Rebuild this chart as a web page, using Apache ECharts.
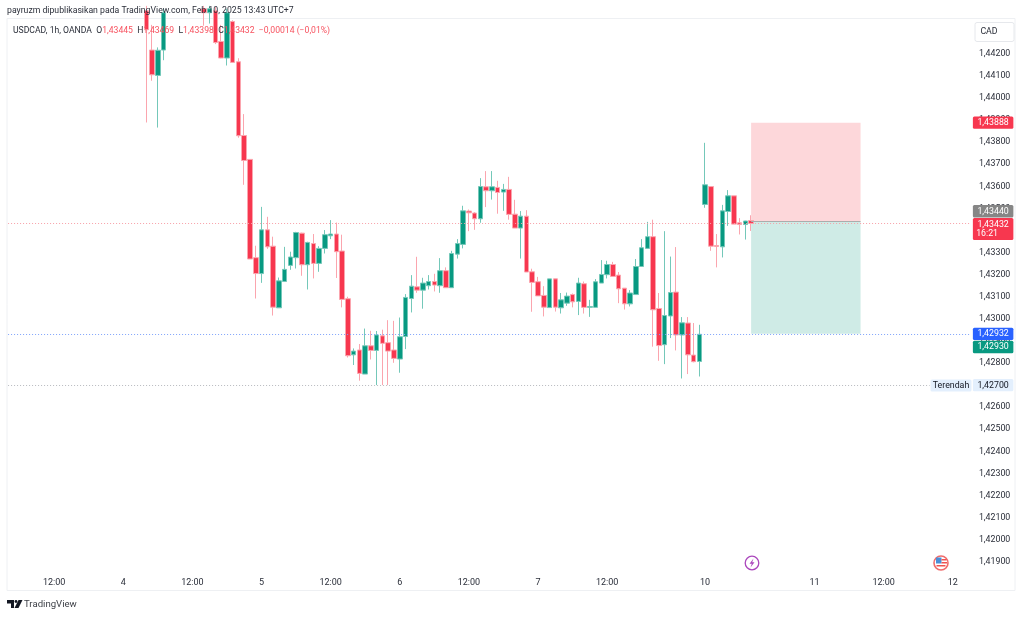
<!DOCTYPE html>
<html>
<head>
<meta charset="utf-8">
<style>
html, body { margin: 0; padding: 0; background: #fff; }
#chart { width: 1024px; height: 617px; }
</style>
<script src="https://cdn.jsdelivr.net/npm/echarts@6/dist/echarts.min.js"></script>
</head>
<body>
<div id="chart"></div>
<script>
// hourly slots on the time axis (weekend hours are not on it)
const slotCount = 168
const firstCandleSlot = 24
const timeTickSlots = [8, 20, 32, 44, 56, 68, 80, 92, 104, 121, 140, 152, 164]
const timeTickLabels = ['12:00', '4', '12:00', '5', '12:00', '6', '12:00', '7', '12:00', '10', '11', '12:00', '12']
const priceTicks = [1.419, 1.42, 1.421, 1.422, 1.423, 1.424, 1.425, 1.426, 1.427, 1.428, 1.429, 1.43, 1.431, 1.432, 1.433, 1.434, 1.435, 1.436, 1.437, 1.438, 1.439, 1.44, 1.441, 1.442]

// null = candle sits above the visible price range
const opens = [1.44395, 1.44217, 1.44102, 1.44217, null, null, null, null, null, null, 1.44404, 1.44386, 1.44395, 1.44256, 1.44181, 1.44346, 1.44164, 1.4383, 1.43722, 1.43277,
  1.43205, 1.43403, 1.43329, 1.4305, 1.43169, 1.43242, 1.43277, 1.43388, 1.43245, 1.43341, 1.43251, 1.43319, 1.43376, 1.43384, 1.43307, 1.43091, 1.42837, 1.42859, 1.4275, 1.42878,
  1.42857, 1.42923, 1.42892, 1.42859, 1.42818, 1.4292, 1.43092, 1.43145, 1.4313, 1.4315, 1.43169, 1.4315, 1.43218, 1.43141, 1.43293, 1.43337, 1.43488, 1.43479, 1.43453, 1.43598,
  1.4358, 1.43595, 1.43574, 1.43586, 1.43474, 1.43411, 1.43465, 1.43213, 1.43168, 1.43106, 1.43051, 1.43181, 1.4305, 1.43071, 1.4311, 1.43079, 1.43159, 1.43052, 1.43052, 1.43162,
  1.432, 1.43246, 1.43198, 1.43139, 1.43068, 1.4311, 1.43237, 1.43319, 1.43372, 1.43047, 1.42883, 1.43013, 1.43121, 1.42927, 1.42981, 1.42836, 1.42807, 1.43518, 1.43599, 1.43332,
  1.43326, 1.43486, 1.43557, 1.43435, 1.43427, 1.43445]
const closes = [1.44309, 1.44105, 1.44216, 1.44386, null, null, null, null, null, null, 1.44386, 1.44404, 1.44251, 1.44181, 1.44386, 1.44161, 1.43829, 1.43717, 1.43271, 1.43205,
  1.43403, 1.43326, 1.43053, 1.43172, 1.43224, 1.4328, 1.43391, 1.43245, 1.43346, 1.43251, 1.43319, 1.43381, 1.43384, 1.43304, 1.43088, 1.42833, 1.42854, 1.42753, 1.42878, 1.42857,
  1.42927, 1.42889, 1.42854, 1.42821, 1.42919, 1.43097, 1.43148, 1.4313, 1.43162, 1.43169, 1.43153, 1.43218, 1.43141, 1.43296, 1.43341, 1.43489, 1.4348, 1.43453, 1.43599, 1.4358,
  1.43598, 1.43572, 1.43586, 1.43473, 1.43411, 1.43465, 1.43212, 1.43165, 1.43104, 1.43053, 1.43181, 1.43053, 1.43086, 1.43103, 1.43077, 1.43162, 1.43052, 1.43056, 1.43168, 1.43201,
  1.43246, 1.43192, 1.43136, 1.43068, 1.43117, 1.43237, 1.43322, 1.43372, 1.43041, 1.42879, 1.43015, 1.43119, 1.42927, 1.42982, 1.42837, 1.42806, 1.4293, 1.43607, 1.43329, 1.43328,
  1.43489, 1.43557, 1.43429, 1.43427, 1.43443, 1.43432]
const lows = [1.43889, 1.44078, 1.43866, 1.44171, null, null, null, null, null, null, 1.44327, 1.44337, 1.44244, 1.4418, 1.44147, 1.44161, 1.4382, 1.43607, 1.43271, 1.43092,
  1.43163, 1.43317, 1.43015, 1.4305, 1.43169, 1.43222, 1.43228, 1.43195, 1.43133, 1.43183, 1.43213, 1.43296, 1.43361, 1.43185, 1.43052, 1.42825, 1.42791, 1.4272, 1.4275, 1.42816,
  1.427, 1.427, 1.427, 1.42801, 1.42756, 1.42863, 1.43029, 1.43118, 1.43046, 1.43133, 1.43124, 1.43118, 1.43141, 1.43141, 1.43273, 1.43319, 1.43397, 1.43403, 1.43435, 1.43506,
  1.4354, 1.43476, 1.43489, 1.43449, 1.43411, 1.43273, 1.43212, 1.43032, 1.43104, 1.43011, 1.43051, 1.43033, 1.43024, 1.43059, 1.43052, 1.43017, 1.43024, 1.43009, 1.43052, 1.43162,
  1.43183, 1.43192, 1.43071, 1.43042, 1.43056, 1.4311, 1.43237, 1.43319, 1.42874, 1.4281, 1.42795, 1.42913, 1.42857, 1.4273, 1.4275, 1.42803, 1.42739, 1.43503, 1.43308, 1.43233,
  1.43278, 1.43421, 1.43429, 1.43382, 1.43359, 1.43398]
const highs = [1.44417, 1.44331, 1.44229, 1.44404, null, null, null, null, null, null, 1.44417, 1.44417, 1.44413, 1.44331, 1.44404, 1.44352, 1.4418, 1.43927, 1.43722, 1.43331,
  1.43507, 1.43462, 1.43372, 1.43187, 1.43326, 1.43304, 1.43394, 1.4339, 1.43349, 1.43384, 1.43329, 1.43402, 1.43447, 1.43436, 1.43381, 1.431, 1.42866, 1.42886, 1.42956, 1.42946,
  1.42945, 1.42951, 1.42994, 1.42991, 1.43006, 1.43112, 1.43198, 1.43281, 1.43186, 1.43198, 1.43204, 1.43275, 1.43233, 1.43308, 1.43361, 1.43512, 1.43495, 1.43483, 1.43637, 1.43669,
  1.43669, 1.43625, 1.43611, 1.43643, 1.43539, 1.43488, 1.43492, 1.43227, 1.4319, 1.43148, 1.43181, 1.43181, 1.43117, 1.43119, 1.43115, 1.43186, 1.43169, 1.43086, 1.4318, 1.43266,
  1.43263, 1.43258, 1.43212, 1.43139, 1.4313, 1.43271, 1.43361, 1.43439, 1.43449, 1.43117, 1.43397, 1.43282, 1.43325, 1.43008, 1.43008, 1.42981, 1.42973, 1.43797, 1.43599, 1.43384,
  1.43516, 1.43583, 1.43557, 1.43456, 1.43444, 1.43469]

// long position tool
const stopPrice = 1.43888
const entryPrice = 1.4344
const targetPrice = 1.42932
const positionStartSlot = 129
const positionEndSlot = 148

// price lines
const lastPrice = 1.43432
const lowestPrice = 1.427
const lowestLabelSlot = 160

// price scale tags
const tagPrices = [stopPrice, entryPrice, lastPrice, targetPrice, 1.4293, lowestPrice]
const tagTexts = ['1,43888', '1,43440', '1,43432', '1,42932', '1,42930', '1,42700']
const tagSubTexts = ['', '', '16:21', '', '', '']
const tagColors = ['#f7374f', '#868686', '#f7374f', '#2962ff', '#089981', '#e3effd']
const tagTextColors = ['#fff', '#fff', '#fff', '#fff', '#fff', '#131722']
const tagShifts = [0, -10.4, 5.6, 0, 12.7, 0]

const fontFamily = 'Roboto, sans-serif'
const redCandle = '#f7374f'
const greenCandle = '#089981'

const categories = new Array(slotCount).fill('')
timeTickSlots.forEach((slot, i) => {
  categories[slot] = timeTickLabels[i]
})

const candleData = new Array(slotCount).fill(null).map(() => ['-', '-', '-', '-'])
opens.forEach((open, i) => {
  if (open !== null) {
    candleData[firstCandleSlot + i] = [open, closes[i], lows[i], highs[i]]
  }
})

const gridRight = 5.2 + 967.68

function renderTag(params, api) {
  const i = params.dataIndex
  const y = api.coord([0, api.value(0)])[1] + tagShifts[i]
  const h = tagSubTexts[i] ? 22 : 12.3
  const top = tagSubTexts[i] ? y - 11 : y - 6.15
  const children = [{
    type: 'rect',
    shape: { x: gridRight, y: top, width: 40.5, height: h, r: 1.5 },
    style: { fill: tagColors[i] }
  }, {
    type: 'text',
    style: {
      x: gridRight + 20.2, y: top + 6.4,
      text: tagTexts[i],
      fill: tagTextColors[i],
      font: '8.8px ' + fontFamily,
      align: 'center', verticalAlign: 'middle'
    }
  }]
  if (tagSubTexts[i]) {
    children.push({
      type: 'text',
      style: {
        x: gridRight + 20.2 - 6, y: top + 16.2,
        text: tagSubTexts[i],
        fill: tagTextColors[i],
        font: '8.8px ' + fontFamily,
        align: 'center', verticalAlign: 'middle'
      }
    })
  }
  return { type: 'group', children }
}

const chart = echarts.init(document.getElementById('chart'))
chart.setOption({
  animation: false,
  backgroundColor: '#fff',
  textStyle: { fontFamily },
  title: [{
    text: 'payruzm dipublikasikan pada TradingView.com, Feb 10, 2025 13:43 UTC+7',
    left: 7,
    top: 6.5,
    padding: 0,
    textStyle: { fontFamily, fontSize: 8.7, fontWeight: 'normal', color: '#2a2e39' }
  }, {
    text: '{k|USDCAD, 1h, OANDA  O}{v|1,43445}{k|  H}{v|1,43469}{k|  L}{v|1,43398}{k|  C}{v|1,43432}{v|  \u22120,00014 (\u22120,01%)}',
    left: 13,
    top: 26.5,
    padding: 0,
    textStyle: {
      fontWeight: 'normal',
      rich: {
        k: { fontFamily, fontSize: 8.65, fontWeight: 'normal', color: '#2a2e39' },
        v: { fontFamily, fontSize: 8.65, fontWeight: 'normal', color: '#f7525f' }
      }
    }
  }],
  grid: { left: 5.2, top: 18.8, width: 967.68, height: 554 },
  xAxis: {
    type: 'category',
    data: categories,
    boundaryGap: true,
    axisLine: { show: false },
    axisTick: { show: false },
    splitLine: { show: false },
    axisLabel: {
      interval: (index, value) => value !== '',
      margin: 5.5,
      hideOverlap: false,
      fontFamily,
      fontSize: 9,
      color: '#2a2e39'
    }
  },
  yAxis: {
    type: 'value',
    position: 'right',
    min: 1.418502,
    max: 1.443585,
    axisLine: { show: false },
    axisTick: { show: false },
    splitLine: { show: false },
    axisLabel: {
      customValues: priceTicks,
      margin: 6,
      fontFamily,
      fontSize: 8.8,
      color: '#2a2e39',
      formatter: v => v.toFixed(5).replace('.', ',')
    }
  },
  series: [{
    type: 'line',
    z: 1,
    data: [],
    silent: true,
    markArea: {
      silent: true,
      data: [
        [{ xAxis: positionStartSlot, yAxis: stopPrice, itemStyle: { color: '#fdd7da' } }, { xAxis: positionEndSlot, yAxis: entryPrice }],
        [{ xAxis: positionStartSlot, yAxis: entryPrice, itemStyle: { color: '#cfebe6' } }, { xAxis: positionEndSlot, yAxis: targetPrice }]
      ]
    },
    markLine: {
      silent: true,
      symbol: 'none',
      label: { show: false },
      data: [
        [{ xAxis: 0, yAxis: lastPrice, lineStyle: { color: '#f8a0a8', type: [1, 2], width: 1, opacity: 1 } }, { xAxis: slotCount - 1, yAxis: lastPrice }],
        [{ xAxis: 0, yAxis: targetPrice, lineStyle: { color: '#7ea3fb', type: [1, 2], width: 1, opacity: 1 } }, { xAxis: slotCount - 1, yAxis: targetPrice }],
        [{ xAxis: 0, yAxis: lowestPrice, lineStyle: { color: '#b8babf', type: [1, 2], width: 1, opacity: 1 } }, { xAxis: lowestLabelSlot, yAxis: lowestPrice }],
        [{ xAxis: positionStartSlot, yAxis: entryPrice, lineStyle: { color: '#a9adad', type: 'solid', width: 1, opacity: 1 } }, { xAxis: positionEndSlot, yAxis: entryPrice }]
      ]
    }
  }, {
    type: 'candlestick',
    z: 3,
    data: candleData,
    barWidth: 5,
    itemStyle: {
      color: greenCandle,
      color0: redCandle,
      borderColor: '#74c8b9',
      borderColor0: '#fba5ae',
      borderWidth: 1
    }
  }, {
    type: 'custom',
    z: 5,
    silent: true,
    renderItem: renderTag,
    clip: false,
    encode: { y: 0 },
    data: tagPrices.map(p => [p])
  }],
  graphic: [{
    type: 'rect',
    z: -1,
    silent: true,
    shape: { x: 7, y: 18.5, width: 1008, height: 572 },
    style: { fill: 'none', stroke: '#eef0f3', lineWidth: 1 }
  }, {
    // CAD button
    type: 'group',
    silent: true,
    z: 6,
    children: [{
      type: 'rect',
      shape: { x: 975, y: 22.5, width: 39, height: 19, r: 2 },
      style: { fill: '#fff', stroke: '#e6e8ec', lineWidth: 1 }
    }, {
      type: 'text',
      style: { x: 989, y: 31.5, text: 'CAD', fill: '#2a2e39', font: '8.8px ' + fontFamily, align: 'center', verticalAlign: 'middle' }
    }]
  }, {
    // lowest price label
    type: 'group',
    silent: true,
    z: 6,
    children: [{
      type: 'rect',
      shape: { x: 930.5, y: 379.5, width: 41, height: 12, r: 1.5 },
      style: { fill: '#e3effd' }
    }, {
      type: 'text',
      style: { x: 951, y: 385.8, text: 'Terendah', fill: '#131722', font: '8.8px ' + fontFamily, align: 'center', verticalAlign: 'middle' }
    }]
  }, {
    // lightning event marker
    type: 'group',
    silent: true,
    z: 6,
    children: [{
      type: 'circle',
      shape: { cx: 752, cy: 563, r: 6.8 },
      style: { fill: '#fff', stroke: '#ab47bc', lineWidth: 1.3 }
    }, {
      type: 'polygon',
      shape: { points: [[753.5, 558.5], [749.5, 563.8], [751.8, 563.8], [750.5, 567.5], [754.5, 562.2], [752.2, 562.2]] },
      style: { fill: '#ab47bc' }
    }]
  }, {
    // US flag event marker
    type: 'group',
    silent: true,
    z: 6,
    children: [{
      type: 'circle',
      shape: { cx: 941, cy: 563, r: 7 },
      style: { fill: '#fff', stroke: '#ef6c6c', lineWidth: 1.6 }
    }, {
      type: 'rect',
      shape: { x: 936, y: 557.5, width: 5.5, height: 6 },
      style: { fill: '#4a90d9' }
    }, {
      type: 'rect',
      shape: { x: 941.5, y: 559, width: 5, height: 1.5 },
      style: { fill: '#ef5350' }
    }, {
      type: 'rect',
      shape: { x: 941.5, y: 562, width: 5.5, height: 1.5 },
      style: { fill: '#ef5350' }
    }, {
      type: 'rect',
      shape: { x: 936.5, y: 565, width: 9, height: 1.5 },
      style: { fill: '#ef5350' }
    }]
  }, {
    // TradingView logo
    type: 'group',
    silent: true,
    z: 6,
    children: [{
      type: 'polygon',
      shape: { points: [[7, 600], [14, 600], [14, 608], [11, 608], [11, 603.5], [7, 603.5]] },
      style: { fill: '#131722' }
    }, {
      type: 'circle',
      shape: { cx: 16, cy: 601.5, r: 1.4 },
      style: { fill: '#131722' }
    }, {
      type: 'polygon',
      shape: { points: [[18.5, 600], [22.5, 600], [18.5, 608], [14.5, 608]] },
      style: { fill: '#131722' }
    }, {
      type: 'text',
      style: { x: 24, y: 604.5, text: 'TradingView', fill: '#3c3f46', font: '9.6px ' + fontFamily, align: 'left', verticalAlign: 'middle' }
    }]
  }]
})
</script>
</body>
</html>
